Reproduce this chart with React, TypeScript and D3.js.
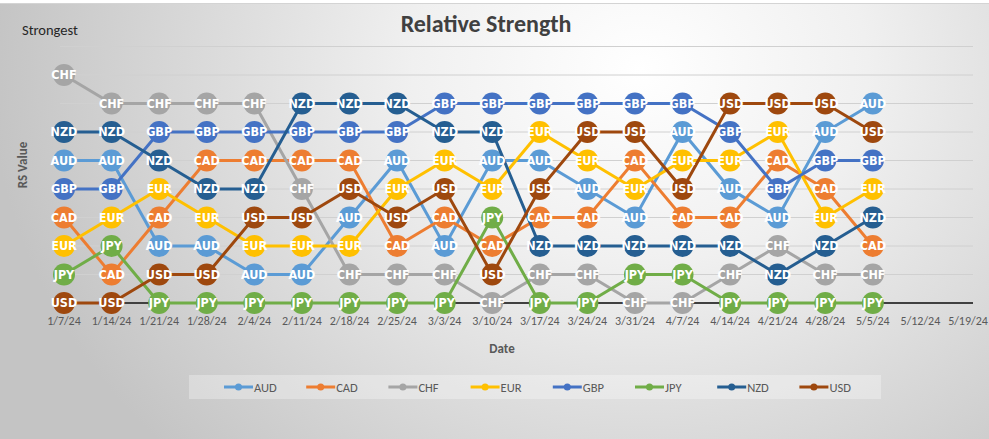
import React from "react";
import * as d3 from "d3";

const dates = ["1/7/24","1/14/24","1/21/24","1/28/24","2/4/24","2/11/24","2/18/24","2/25/24","3/3/24","3/10/24","3/17/24","3/24/24","3/31/24","4/7/24","4/14/24","4/21/24","4/28/24","5/5/24","5/12/24","5/19/24"];
const currencies = ["AUD","CAD","CHF","EUR","GBP","JPY","NZD","USD"];
const colors = ["#5B9BD5","#ED7D31","#A5A5A5","#FFC000","#4472C4","#70AD47","#255E91","#9E480E"];

const AUD = [5,5,2,2,1,1,3,5,2,5,5,4,3,6,4,3,6,7];
const CAD = [3,1,3,5,5,5,5,2,3,2,3,3,5,3,3,5,4,2];
const CHF = [8,7,7,7,7,4,1,1,1,0,1,1,0,0,1,2,1,1];
const EUR = [2,3,4,3,2,2,2,4,5,4,6,5,4,5,5,6,3,4];
const GBP = [4,4,6,6,6,6,6,6,7,7,7,7,7,7,6,4,5,5];
const JPY = [1,2,0,0,0,0,0,0,0,3,0,0,1,1,0,0,0,0];
const NZD = [6,6,5,4,4,7,7,7,6,6,2,2,2,2,2,1,2,3];
const USD = [0,0,1,1,3,3,4,3,4,1,4,6,6,4,7,7,7,6];
const series = [AUD, CAD, CHF, EUR, GBP, JPY, NZD, USD];
const yTicks = [0,1,2,3,4,5,6,7,8,9];

const W = 989, H = 439;
const labelFont = "'Liberation Sans Narrow','DejaVu Sans Condensed','Liberation Sans',sans-serif";
const axisFont = "Carlito,'Liberation Sans',Arial,sans-serif";

export default function App() {
  const x = d3.scaleLinear().domain([0, dates.length - 1]).range([64, 968]);
  const y = d3.scaleLinear().domain([0, 9]).range([303, 46.5]);
  const plotL = 60, plotR = 973;
  const line = d3.line<number>().x((_, i) => x(i)).y((v) => y(v));
  const legendX0 = 224, legendStep = 82.2;

  return (
    <svg width={W} height={H} style={{ position: "absolute", left: 0, top: 0 }}>
      <defs>
        <radialGradient id="bg" gradientUnits="userSpaceOnUse" cx={640} cy={70} r={650}
          gradientTransform="translate(640,70) scale(1,0.85) translate(-640,-70)">
          <stop offset="0" stopColor="#ffffff" />
          <stop offset="0.35" stopColor="#f0f0f0" />
          <stop offset="0.7" stopColor="#d8d8d8" />
          <stop offset="1" stopColor="#c4c4c4" />
        </radialGradient>
      </defs>
      <rect x={0} y={0} width={W} height={H} fill="url(#bg)" />
      <rect x={0} y={0} width={W} height={3} fill="#ffffff" />
      <line x1={0} x2={W} y1={3.5} y2={3.5} stroke="#d4d4d4" />

      {/* gridlines */}
      {yTicks.filter((t) => t > 0).map((t) => (
        <line key={t} x1={plotL} x2={plotR} y1={y(t)} y2={y(t)} stroke="#d0d0d0" strokeWidth={1} />
      ))}
      <line x1={plotL} x2={plotR} y1={y(0)} y2={y(0)} stroke="#404040" strokeWidth={2.2} />

      {/* x tick labels */}
      {dates.map((d, i) => (
        <text key={d} x={x(i)} y={325} textAnchor="middle" fontFamily={axisFont} fontSize={12} fill="#595959">{d}</text>
      ))}

      {/* series lines and markers */}
      {series.map((s, k) => (
        <g key={currencies[k]}>
          <path d={line(s) || ""} fill="none" stroke={colors[k]} strokeWidth={3} />
          {s.map((v, i) => (
            <circle key={i} cx={x(i)} cy={y(v)} r={11} fill={colors[k]} />
          ))}
        </g>
      ))}
      {/* data labels */}
      {series.map((s, k) => (
        <g key={"l" + currencies[k]}>
          {s.map((v, i) => (
            <text key={i} x={x(i)} y={y(v) + 4.3} textAnchor="middle" fontFamily={labelFont} fontWeight="bold" fontSize={12.5} fill="#ffffff">{currencies[k]}</text>
          ))}
        </g>
      ))}

      {/* titles */}
      <text x={486} y={32} textAnchor="middle" fontFamily={axisFont} fontWeight="bold" fontSize={24} fill="#404040">Relative Strength</text>
      <text x={22} y={35} fontFamily={axisFont} fontSize={14.5} fill="#262626">Strongest</text>
      <text transform="translate(27,165) rotate(-90)" textAnchor="middle" fontFamily={axisFont} fontWeight="bold" fontSize={13} fill="#595959">RS Value</text>
      <text x={502} y={353} textAnchor="middle" fontFamily={axisFont} fontWeight="bold" fontSize={13} fill="#595959">Date</text>

      {/* legend */}
      <rect x={189} y={375} width={692} height={24} fill="#ffffff" fillOpacity={0.3} />
      {currencies.map((c, k) => {
        const lx = legendX0 + k * legendStep;
        return (
          <g key={"lg" + c}>
            <line x1={lx} x2={lx + 29} y1={387} y2={387} stroke={colors[k]} strokeWidth={3} />
            <circle cx={lx + 14.5} cy={387} r={3.5} fill={colors[k]} />
            <text x={lx + 30} y={391.5} fontFamily={axisFont} fontSize={12.5} fill="#595959">{c}</text>
          </g>
        );
      })}
    </svg>
  );
}
